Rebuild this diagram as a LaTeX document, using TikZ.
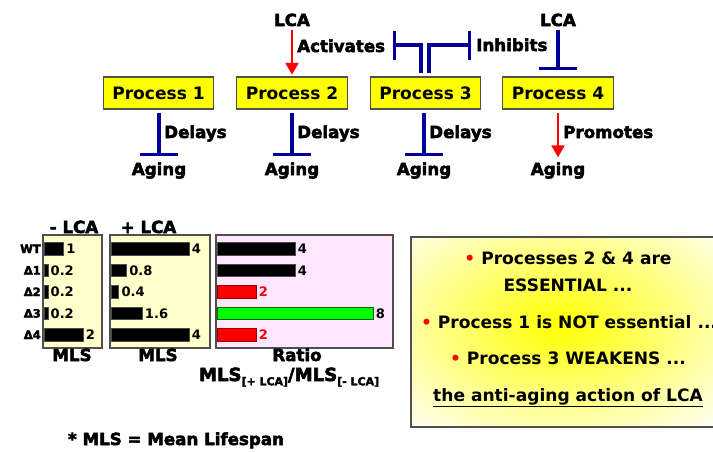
\documentclass[tikz,border=0pt]{standalone}
\usepackage{fontspec}
\setmainfont{DejaVu Sans}
\newfontfamily\heavyfont{DejaVu Sans Bold}[FakeBold=3]
\usetikzlibrary{arrows.meta,calc}
\definecolor{boxyellow}{HTML}{FFFF00}
\definecolor{panelyel}{HTML}{FFFFCC}
\definecolor{panelpink}{HTML}{FFE6FF}
\definecolor{inhblue}{HTML}{000099}
\definecolor{edgegray}{HTML}{505050}
\definecolor{bargreen}{HTML}{00FF00}
\begin{document}
\begin{tikzpicture}[x=0.75pt,y=-0.75pt,
  proc/.style={draw=edgegray,line width=0.9pt,fill=boxyellow,minimum width=83pt,minimum height=24pt,inner sep=0pt,font=\fontsize{12.8}{15}\selectfont\bfseries},
  lab/.style={font=\fontsize{12.5}{14}\selectfont\heavyfont,inner sep=0pt,anchor=base},
  boxtxt/.style={font=\fontsize{12.8}{14}\selectfont\bfseries,inner sep=0pt,anchor=base},
  rowlab/.style={font=\fontsize{8.6}{9}\selectfont\heavyfont,inner sep=0pt,anchor=base east},
  num/.style={font=\fontsize{9.8}{11}\selectfont\bfseries,inner sep=0pt,anchor=base west},
  act/.style={red,line width=2.2pt,-{Triangle[length=9pt,width=9.5pt]}},
  inh/.style={inhblue,line width=2.3pt,-{Bar[width=28pt]}},
  inhs/.style={inhblue,line width=2.3pt,line join=miter,-{Bar[width=21.75pt]}},
  panelA/.style={draw=edgegray,line width=1.1pt,fill=panelyel},
  panelB/.style={draw=edgegray,line width=1.1pt,fill=panelpink},
  barblk/.style={draw=black!70,line width=0.5pt,fill=black},
  barred/.style={draw=red!60!black,line width=0.5pt,fill=red},
  bargrn/.style={draw=green!40!black,line width=0.5pt,fill=bargreen},
]
\useasboundingbox (0,0) rectangle (713,451);

% ---------- process boxes ----------
\node[proc] (p1) at (158.5,93) {Process 1};
\node[proc] (p2) at (292,93) {Process 2};
\node[proc] (p3) at (425.5,93) {Process 3};
\node[proc] (p4) at (558,93) {Process 4};

% ---------- LCA ----------
\node[lab] (lca2) at (292,26) {LCA};
\node[lab] (lca4) at (558,26) {LCA};
\draw[act,shorten <=2.25pt,shorten >=1.2pt] (lca2.south) -- (p2.north);
\draw[inh,shorten <=2.25pt,shorten >=4.5pt] (lca4.south) -- (p4.north);
\node[lab,anchor=base west] (lact) at (297,52) {Activates};
\node[lab,anchor=base west] (linh) at (476,51) {Inhibits};

% ---------- process 3 inhibitions ----------
\coordinate (tA) at (393,45);
\coordinate (tB) at (471,45);
\draw[inhs] ($(p3.north)+(-4.5,-3)$) |- (tA);
\draw[inhs] ($(p3.north)+(3.5,-3)$) |- (tB);

% ---------- aging ----------
\node[lab] (a1) at (159,175) {Aging};
\node[lab] (a2) at (292,175) {Aging};
\node[lab] (a3) at (424,175) {Aging};
\node[lab] (a4) at (558,175) {Aging};
\draw[inh,shorten <=2.25pt,shorten >=4.5pt] (p1.south -| a1) -- (a1.north);
\draw[inh,shorten <=2.25pt,shorten >=4.5pt] (p2.south -| a2) -- (a2.north);
\draw[inh,shorten <=2.25pt,shorten >=4.5pt] (p3.south -| a3) -- (a3.north);
\draw[act,shorten <=2.25pt,shorten >=3.5pt] (p4.south -| a4) -- (a4.north);
\node[lab,anchor=base west] (d1) at (164,138) {Delays};
\node[lab,anchor=base west] (d2) at (297,138) {Delays};
\node[lab,anchor=base west] (d3) at (429,138) {Delays};
\node[lab,anchor=base west] (pr) at (563,138) {Promotes};

% ---------- panels ----------
\path[panelA] (43,235) rectangle (102,348);
\path[panelA] (110,235) rectangle (210,348);
\path[panelB] (216,235) rectangle (393,348);
\node[lab] (tm) at (74,233) {- LCA};
\node[lab] (tp) at (148.5,233) {+ LCA};
\node[lab] (m1) at (72,361) {MLS};
\node[lab] (m2) at (158,361) {MLS};
\node[lab] (rt) at (297,361) {Ratio};
\node[lab,font=\fontsize{13.6}{15}\selectfont\heavyfont] (fr) at (289,381) {MLS{\fontsize{8.2}{9}\selectfont\raisebox{-3.2pt}{[+ LCA]}}/MLS{\fontsize{8.2}{9}\selectfont\raisebox{-3.2pt}{[- LCA]}}};

% row labels
\foreach \y/\l [count=\i] in {249/WT,270.5/Δ1,292/Δ2,313.5/Δ3,335/Δ4}
  \node[rowlab] (r\i) at (41,\y+4) {\l};

% - LCA bars
\foreach \y/\v/\t [count=\i] in {249/1/1,270.5/0.2/0.2,292/0.2/0.2,313.5/0.2/0.2,335/2/2}{
  \path[barblk] (44,\y-6.25) rectangle ++(\v*19.5,12.5);
  \node[num] (nm\i) at (44+\v*19.5+2.5,\y+4.5) {\t};
}
% + LCA bars
\foreach \y/\v/\t [count=\i] in {249/4/4,270.5/0.8/0.8,292/0.4/0.4,313.5/1.6/1.6,335/4/4}{
  \path[barblk] (111,\y-6.25) rectangle ++(\v*19.5,12.5);
  \node[num] (np\i) at (111+\v*19.5+2.5,\y+4.5) {\t};
}
% ratio bars
\foreach \y/\v/\s/\c [count=\i] in {249/4/barblk/black,270.5/4/barblk/black,292/2/barred/red,313.5/8/bargrn/black,335/2/barred/red}{
  \path[\s] (217,\y-6.25) rectangle ++(\v*19.5,12.5);
  \node[num,text=\c] (nr\i) at (217+\v*19.5+2.5,\y+4.5) {\v};
}

% ---------- conclusion box ----------
\begin{scope}
  \clip (411,237) rectangle (720,427);
  \fill[white!97!yellow] (411,237) rectangle (720,427);
  \shade[inner color=yellow,outer color=white!97!yellow] (335,185) rectangle (785,465);
\end{scope}
\draw[edgegray,line width=1pt] (411,237) rectangle (720,427);
\node[boxtxt] (c1) at (568,264) {{\color{red}•} Processes 2 \& 4 are};
\node[boxtxt] (c2) at (568,291) {ESSENTIAL ...};
\node[boxtxt] (c3) at (569,328) {{\color{red}•} Process 1 is NOT essential ...};
\node[boxtxt] (c4) at (568,364) {{\color{red}•} Process 3 WEAKENS ...};
\node[boxtxt] (c5) at (568,401) {\underline{the anti-aging action of LCA}};

% ---------- footnote ----------
\node[lab] (fn) at (176,445) {* MLS = Mean Lifespan};
\end{tikzpicture}
\end{document}
